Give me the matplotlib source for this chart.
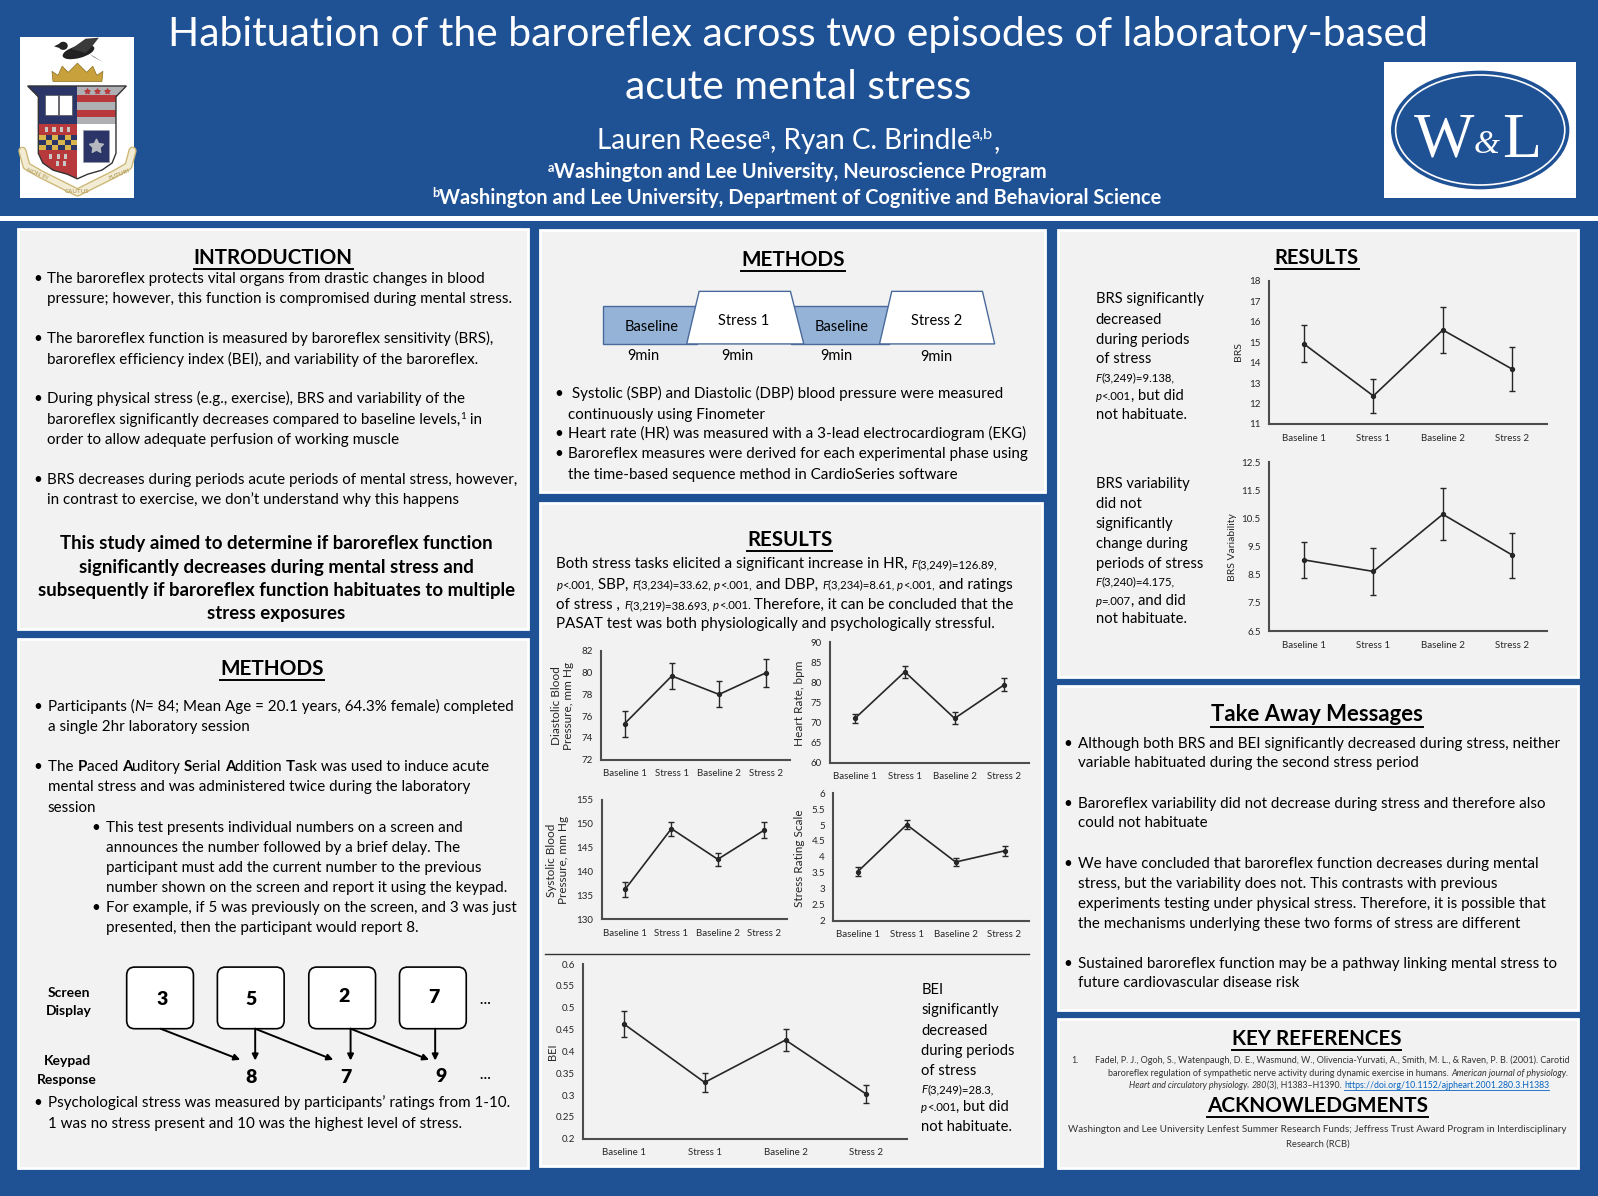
import numpy as np
import matplotlib.pyplot as plt
from matplotlib.patches import Rectangle, Polygon, Ellipse, FancyBboxPatch

plt.rcParams['font.family'] = ['Lato', 'DejaVu Sans']

# poster drawn in "poster pixels"
W, H = 1568, 1174
BLUE = '#1f5195'
PANEL = '#f2f2f2'
INK = '#262626'
BODY = 10.9

phases = ['Baseline 1', 'Stress 1', 'Baseline 2', 'Stress 2']
dbp = [75.3, 79.7, 78.0, 80.0]
dbp_err = [1.2, 1.2, 1.2, 1.3]
hr = [71.0, 82.6, 71.0, 79.4]
hr_err = [1.2, 1.5, 1.5, 1.6]
sbp = [136.2, 148.9, 142.5, 148.6]
sbp_err = [1.5, 1.5, 1.4, 1.7]
stress_rating = [3.54, 5.01, 3.84, 4.19]
stress_err = [0.13, 0.14, 0.14, 0.15]
bei = [0.463, 0.329, 0.426, 0.302]
bei_err = [0.030, 0.021, 0.026, 0.021]
brs = [14.92, 12.37, 15.60, 13.68]
brs_err = [0.91, 0.82, 1.14, 1.08]
brs_var = [9.03, 8.62, 10.65, 9.20]
brs_var_err = [0.65, 0.85, 0.92, 0.80]

fig = plt.figure(figsize=(15.98, 11.96), dpi=100, facecolor=BLUE)
bg = fig.add_axes([0, 0, 1, 1])
bg.set_xlim(0, W)
bg.set_ylim(H, 0)
bg.axis('off')
R = fig.canvas.get_renderer()
PX = W / fig.bbox.width


def text_w(s, **kw):
    t = bg.text(0, 0, '|' + s + '|', **kw)
    t0 = bg.text(0, 0, '||', **kw)
    w = t.get_window_extent(R).width - t0.get_window_extent(R).width
    t.remove()
    t0.remove()
    return w * PX


def runs(x, y, parts, ha='left', size=BODY, color='black', weight='normal', fit=None):
    def props(kw, scale):
        k = dict(color=color, fontweight=weight, fontsize=size)
        k.update(kw)
        dy = k.pop('dy', 0) * scale
        k['fontsize'] = k['fontsize'] * scale
        return k, dy
    scale = 1.0
    widths = [text_w(s, **props(kw, scale)[0]) for s, kw in parts]
    if fit:
        scale = fit / sum(widths)
        widths = [text_w(s, **props(kw, scale)[0]) for s, kw in parts]
    total = sum(widths)
    cx = x - total / 2 if ha == 'center' else x
    base = y + 0.45 * size * scale
    spans = []
    for (s, kw), w in zip(parts, widths):
        k, dy = props(kw, scale)
        bg.text(cx, base + dy, s, ha='left', va='baseline', **k)
        spans.append((cx, w))
        cx += w
    return total, size * scale, spans


def line(x, y, s, **kw):
    return runs(x, y, [(s, {})], **kw)


def heading(x, y, s, width):
    w, sz, _ = runs(x, y, [(s, {})], ha='center', weight='bold', size=16, fit=width)
    bg.plot([x - w / 2, x + w / 2], [y + 0.72 * sz + 1, y + 0.72 * sz + 1], color='black', lw=1.4)


def bullets(xb, xt, rows, size=BODY):
    for y, parts, dot in rows:
        if dot:
            line(xb, y, '•', size=size)
        if isinstance(parts, str):
            parts = [(parts, {})]
        runs(xt, y, parts, size=size)


IT = dict(style='italic')
BD = dict(fontweight='bold')


def sm(**k):
    d = dict(fontsize=8.2)
    d.update(k)
    return d


def panel(x0, y0, x1, y1):
    bg.add_patch(Rectangle((x0, y0), x1 - x0, y1 - y0, fc=PANEL, ec='white', lw=2))


def chart(box, vals, errs, ylim, yticks, ysize=7, xsize=7):
    x0, y0, x1, y1 = box
    ax = fig.add_axes([x0 / W, 1 - y1 / H, (x1 - x0) / W, (y1 - y0) / H])
    ax.patch.set_visible(False)
    xs = np.arange(len(phases))
    ax.errorbar(xs, vals, yerr=errs, color=INK, lw=1.2, marker='o', ms=2.8,
                capsize=2, elinewidth=1, capthick=1)
    ax.set_xlim(-0.5, len(phases) - 0.5)
    ax.set_ylim(*ylim)
    ax.set_yticks(yticks)
    ax.set_yticklabels([f'{v:g}' for v in yticks])
    ax.set_xticks(xs)
    ax.set_xticklabels(phases)
    ax.tick_params(axis='y', length=0, labelsize=ysize, pad=6, colors=INK)
    ax.tick_params(axis='x', length=0, labelsize=xsize, pad=7, colors=INK)
    for s in ['top', 'right']:
        ax.spines[s].set_visible(False)
    for s in ['left', 'bottom']:
        ax.spines[s].set_color('#4d4d4d')
        ax.spines[s].set_linewidth(1.5)
    return ax


def ylab(x, y, s, size=8.5):
    bg.text(x, y, s, rotation=90, ha='center', va='center', fontsize=size,
            color=INK, linespacing=1.1, multialignment='center')


# ---------------- header ----------------
w1, tsz, _ = line(783, 32, 'Habituation of the baroreflex across two episodes of laboratory-based',
                  ha='center', color='white', size=28, fit=1237)
line(783, 84, 'acute mental stress', ha='center', color='white', size=tsz)
runs(783, 137, [('Lauren Reese', {}), ('a', dict(fontsize=10, dy=-8)),
                (', Ryan C. Brindle', {}), ('a,b', dict(fontsize=10, dy=-8)), (',', {})],
     ha='center', color='white', size=17, fit=395)
_, asz, _ = runs(782, 194, [('b', dict(fontsize=8, dy=-6)),
                            ('Washington and Lee University, Department of Cognitive and Behavioral Science', {})],
                 ha='center', color='white', weight='bold', size=12.5, fit=715)
runs(782, 168, [('a', dict(fontsize=8 * asz / 12.5, dy=-6)),
                ('Washington and Lee University, Neuroscience Program', {})],
     ha='center', color='white', weight='bold', size=asz)
bg.add_patch(Rectangle((0, 212), 1592, 5, fc='white', ec='none'))

# crest (left logo)
bg.add_patch(Rectangle((19.6, 36.3), 111.9, 158, fc='white', ec='none'))
rib = np.array([(22, 148), (26, 163), (40, 171), (58, 180), (76, 189), (94, 180),
                (112, 171), (126, 163), (130, 148)])
bg.plot(rib[:, 0], rib[:, 1], color='#cdb877', lw=6, solid_capstyle='round')
bg.plot(rib[:, 0], rib[:, 1], color='#f3ecd4', lw=4, solid_capstyle='round')
bg.text(36, 171, 'NON IN', fontsize=4.5, color='#a8924f', rotation=-22, ha='center', va='center')
bg.text(76, 188, 'CAUTUS', fontsize=4.5, color='#a8924f', ha='center', va='center')
bg.text(117, 171, 'FUTURI', fontsize=4.5, color='#a8924f', rotation=22, ha='center', va='center')
shield_pts = [(27.1, 84.4), (124, 84.4), (113.8, 95), (113.8, 150.5), (110, 160), (100, 167),
              (86, 171), (75.9, 175.5), (66, 171), (52, 167), (42, 160), (37.6, 150.5), (37.6, 95)]
shield = Polygon(shield_pts, closed=True, fc='none', ec='#333333', lw=1, zorder=4)
bg.add_patch(shield)
pieces = [Rectangle((27, 84), 49, 38, fc='#2b3567', ec='none'),
          Rectangle((75.9, 84), 49, 38, fc='#aeb0b3', ec='none'),
          Rectangle((75.9, 93.2), 49, 7.2, fc='#b8393c', ec='none'),
          Rectangle((75.9, 108), 49, 7.2, fc='#b8393c', ec='none'),
          Rectangle((27, 122), 49, 55, fc='#b8393c', ec='none'),
          Rectangle((75.9, 122), 49, 55, fc='white', ec='none')]
for i in range(6):
    for j in range(3):
        pieces.append(Rectangle((38.6 + i * 6.2, 132.5 + j * 4.9), 6.2, 4.9, ec='none',
                                fc='#2b3567' if (i + j) % 2 else '#d9b44a'))
for xx in [45.8, 53, 60.2, 67.4]:
    pieces.append(Rectangle((xx - 1.5, 125), 3, 4.5, fc='#c8c8c8', ec='none'))
for xx, yy in [(50, 151), (57, 151), (64, 151), (56, 158), (63, 158)]:
    pieces.append(Rectangle((xx - 1.5, yy), 3, 5, fc='#c8c8c8', ec='none'))
for p in pieces:
    bg.add_patch(p)
    p.set_clip_path(shield)
bg.add_patch(Rectangle((44, 93), 13, 20, fc='white', ec='#555555', lw=0.5, zorder=5))
bg.add_patch(Rectangle((58, 93), 13, 20, fc='white', ec='#555555', lw=0.5, zorder=5))
bg.add_patch(Rectangle((81.8, 127.6), 25.5, 31, fc='#2b3567', ec='#999999', lw=0.6, ls=':', zorder=5))
bg.scatter([94.5], [143], marker=(5, 1, 0), s=110, c='#b5b8bf', zorder=6)
bg.scatter([85.7, 95.5, 105.3], [89, 89, 89], marker='*', s=14, c='#b8393c', zorder=6)
bg.add_patch(Polygon([(52, 80), (100, 80), (101, 70), (95, 74), (91, 65), (85, 71), (76, 62),
                      (67, 71), (61, 65), (57, 74), (51, 70)], fc='#c9a13c', ec='#8a6d1f', lw=0.5))
bg.add_patch(Ellipse((77, 51), 32, 12, angle=-15, fc='#222222'))
bg.add_patch(Ellipse((62, 45), 9, 8, fc='#222222'))
bg.add_patch(Polygon([(58, 43), (53, 45.5), (58, 47)], fc='#222222'))
bg.add_patch(Polygon([(70, 48), (84, 38), (97, 37), (90, 46), (84, 52)], fc='#3a3a3a'))
bg.add_patch(Polygon([(88, 53), (101, 61), (92, 56)], fc='#222222'))

# W&L logo
bg.add_patch(Rectangle((1358, 61), 188.6, 133, fc='white', ec='none'))
bg.add_patch(Ellipse((1452.4, 127.6), 175, 116.5, fc=BLUE, ec='none'))
bg.add_patch(Ellipse((1452.4, 127.6), 166, 108, fc='none', ec='white', lw=1.2))
bg.text(1417, 154, 'W', fontsize=46, color='white', family='Liberation Serif', ha='center', va='baseline')
bg.text(1459, 150, '&', fontsize=24, color='white', family='Liberation Serif', style='italic',
        ha='center', va='baseline')
bg.text(1493, 154, 'L', fontsize=46, color='white', family='Liberation Serif', ha='center', va='baseline')

# ---------------- panels ----------------
panel(18, 225, 518, 617)
panel(18, 627, 518, 1147)
panel(530, 226, 1025, 483)
panel(530, 494, 1022, 1145)
panel(1038, 226, 1548, 665)
panel(1038, 673, 1548, 991)
panel(1038, 1000, 1548, 1147)

# ---------------- introduction ----------------
heading(268, 252, 'INTRODUCTION', 157)
bullets(33, 46, [
    (273, 'The baroreflex protects vital organs from drastic changes in blood', True),
    (293, 'pressure; however, this function is compromised during mental stress.', False),
    (332, 'The baroreflex function is measured by baroreflex sensitivity (BRS),', True),
    (352, 'baroreflex efficiency index (BEI), and variability of the baroreflex.', False),
    (391, 'During physical stress (e.g., exercise), BRS and variability of the', True),
    (411, [('baroreflex significantly decreases compared to baseline levels,', {}),
           ('1', dict(fontsize=7, dy=-5)), (' in', {})], False),
    (431, 'order to allow adequate perfusion of working muscle', False),
    (470, 'BRS decreases during periods acute periods of mental stress, however,', True),
    (490, 'in contrast to exercise, we don’t understand why this happens', False),
])
for y, s in [(533, 'This study aimed to determine if baroreflex function'),
             (556, 'significantly decreases during mental stress and'),
             (579, 'subsequently if baroreflex function habituates to multiple'),
             (602, 'stress exposures')]:
    line(271, y, s, ha='center', weight='bold', size=13.4)

# ---------------- methods (left) ----------------
heading(267, 656, 'METHODS', 102)
bullets(33, 47, [
    (693, [('Participants (', {}), ('N', IT), ('= 84; Mean Age = 20.1 years, 64.3% female) completed', {})], True),
    (713, 'a single 2hr laboratory session', False),
    (752, [('The ', {}), ('P', BD), ('aced ', {}), ('A', BD), ('uditory ', {}), ('S', BD), ('erial ', {}),
           ('A', BD), ('ddition ', {}), ('T', BD), ('ask was used to induce acute', {})], True),
    (772, 'mental stress and was administered twice during the laboratory', False),
    (792, 'session', False),
])
bullets(90, 104, [
    (812, 'This test presents individual numbers on a screen and', True),
    (831, 'announces the number followed by a brief delay. The', False),
    (851, 'participant must add the current number to the previous', False),
    (871, 'number shown on the screen and report it using the keypad.', False),
    (890, 'For example, if 5 was previously on the screen, and 3 was just', True),
    (910, 'presented, then the participant would report 8.', False),
])
# PASAT example
line(68, 974, 'Screen', ha='center', weight='bold', size=10)
line(68, 992, 'Display', ha='center', weight='bold', size=10)
line(66, 1041, 'Keypad', ha='center', weight='bold', size=10)
line(66, 1060, 'Response', ha='center', weight='bold', size=10)
screen_digits = ['3', '5', '2', '7']
keypad_digits = ['8', '7', '9']
box_left = [124.3, 213.3, 303, 392]
digit_xy = [(158.7, 980.4), (246.3, 980.4), (337.5, 977.5), (425.3, 978)]
for bx, (dx, dy), d in zip(box_left, digit_xy, screen_digits):
    bg.add_patch(FancyBboxPatch((bx, 949.3), 65.5, 60.5, boxstyle='round,pad=0,rounding_size=8',
                                fc='white', ec='black', lw=1.2))
    line(dx, dy, d, ha='center', weight='heavy', size=14)
for (dx, dy), d in zip([(246, 1057), (339.7, 1057), (432.5, 1055.6)], keypad_digits):
    line(dx, dy, d, ha='center', weight='heavy', size=14)
line(476, 981, '…', ha='center', weight='bold', size=10)
line(476, 1055, '…', ha='center', weight='bold', size=10)
for start, end in [((157.6, 1009.8), (235.7, 1040.3)), ((250.4, 1009.8), (250.4, 1041)),
                   ((250.4, 1009.8), (327, 1040.3)), ((344, 1009.8), (344, 1041)),
                   ((344, 1009.8), (421, 1040.3)), ((427, 1009.8), (427, 1041))]:
    bg.annotate('', xy=end, xytext=start,
                arrowprops=dict(arrowstyle='-|>', color='black', lw=1.4, mutation_scale=9,
                                shrinkA=0, shrinkB=0))
bullets(33, 47, [
    (1082, 'Psychological stress was measured by participants’ ratings from 1-10.', True),
    (1102, '1 was no stress present and 10 was the highest level of stress.', False),
])

# ---------------- methods (middle) ----------------
heading(778, 254, 'METHODS', 102)
TL_EDGE = '#4a6a9c'
bg.add_patch(Rectangle((592, 300), 92, 37.6, fc='#95b3d7', ec=TL_EDGE, lw=1))
bg.add_patch(Rectangle((776, 300), 96, 37.6, fc='#95b3d7', ec=TL_EDGE, lw=1))
bg.add_patch(Polygon([(673.8, 337.6), (686, 286), (775.6, 286), (788.7, 337.6)], fc='white', ec=TL_EDGE, lw=1))
bg.add_patch(Polygon([(863, 337.6), (875, 286), (964, 286), (976, 337.6)], fc='white', ec=TL_EDGE, lw=1))
for x, y, s in [(639.5, 320, 'Baseline'), (730, 314.6, 'Stress 1'), (825.6, 320, 'Baseline'),
                (919, 314.6, 'Stress 2'), (631, 348.5, '9min'), (723, 348.5, '9min'),
                (821, 348.5, '9min'), (918.6, 350, '9min')]:
    line(x, y, s, ha='center', size=10.5)
bullets(544, 557, [
    (386, ' Systolic (SBP) and Diastolic (DBP) blood pressure were measured', True),
    (406, 'continuously using Finometer', False),
    (425, 'Heart rate (HR) was measured with a 3-lead electrocardiogram (EKG)', True),
    (445, 'Baroreflex measures were derived for each experimental phase using', True),
    (465, 'the time-based sequence method in CardioSeries software', False),
])

# ---------------- results (middle) ----------------
heading(775, 529, 'RESULTS', 84)
runs(546, 553, [('Both stress tasks elicited a significant increase in HR, ', {}),
                ('F', sm(style='italic')), ('(3,249)=126.89,', sm())])
runs(546, 573, [('p', sm(style='italic')), ('<.001,', sm()), (' SBP, ', {}), ('F', sm(style='italic')),
                ('(3,234)=33.62, ', sm()), ('p', sm(style='italic')), ('<.001,', sm()), (' and DBP, ', {}),
                ('F', sm(style='italic')), ('(3,234)=8.61, ', sm()), ('p', sm(style='italic')),
                ('<.001,', sm()), (' and ratings', {})])
runs(546, 593, [('of stress , ', {}), ('F', sm(style='italic')), ('(3,219)=38.693, ', sm()),
                ('p', sm(style='italic')), ('<.001.', sm()), (' Therefore, it can be concluded that the', {})])
line(546, 612, 'PASAT test was both physiologically and psychologically stressful.')

chart((589.7, 639, 775, 745.6), dbp, dbp_err, (72, 82), np.arange(72, 83, 2))
chart((814.5, 630.3, 1010, 748.5), hr, hr_err, (60, 90), np.arange(60, 91, 5))
chart((590.5, 784.8, 772.6, 902.2), sbp, sbp_err, (130, 155), np.arange(130, 156, 5))
chart((817.7, 778.5, 1009.7, 903.8), stress_rating, stress_err, (2, 6), np.arange(2, 6.01, 0.5))
ylab(551.5, 692.8, 'Diastolic Blood\nPressure, mm Hg')
ylab(784.4, 690.2, 'Heart Rate, bpm')
ylab(547.3, 844, 'Systolic Blood\nPressure, mm Hg')
ylab(784.9, 842.2, 'Stress Rating Scale')
bg.plot([535, 1010], [936.2, 936.2], color='#333333', lw=1)

chart((572.4, 946.3, 889.8, 1117.8), bei, bei_err, (0.2, 0.6), np.arange(0.2, 0.601, 0.05))
ylab(542.4, 1032, 'BEI', size=8)
for y, parts in [(971, 'BEI'), (991, 'significantly'), (1011, 'decreased'), (1031, 'during periods'),
                 (1050, 'of stress'), (1068, [('F', sm(style='italic')), ('(3,249)=28.3,', sm())]),
                 (1086, [('p', sm(style='italic')), ('<.001', sm()), (', but did', {})]),
                 (1105, 'not habituate.')]:
    runs(904, y, [(parts, {})] if isinstance(parts, str) else parts, size=10.6)

# ---------------- results (right) ----------------
heading(1292, 253, 'RESULTS', 83)
for y, parts in [(293, 'BRS significantly'), (313, 'decreased'), (333, 'during periods'), (352, 'of stress'),
                 (370, [('F', sm(style='italic')), ('(3,249)=9.138,', sm())]),
                 (388, [('p', sm(style='italic')), ('<.001', sm()), (', but did', {})]),
                 (407, 'not habituate.'),
                 (474, 'BRS variability'), (494, 'did not'), (514, 'significantly'), (533, 'change during'),
                 (553, 'periods of stress'),
                 (570, [('F', sm(style='italic')), ('(3,240)=4.175,', sm())]),
                 (589, [('p', sm(style='italic')), ('=.007', sm()), (', and did', {})]),
                 (607, 'not habituate.')]:
    runs(1075, y, [(parts, {})] if isinstance(parts, str) else parts, size=10.6)
chart((1245.3, 275.8, 1518, 416.1), brs, brs_err, (11, 18), np.arange(11, 19, 1))
chart((1245.3, 453.7, 1518, 619.5), brs_var, brs_var_err, (6.5, 12.5), np.arange(6.5, 12.6, 1))
ylab(1215, 345, 'BRS', size=7.5)
ylab(1209, 537, 'BRS Variability', size=7.5)

# ---------------- take away ----------------
heading(1292, 701, 'Take Away Messages', 209)
bullets(1043, 1058, [
    (729, 'Although both BRS and BEI significantly decreased during stress, neither', True),
    (748, 'variable habituated during the second stress period', False),
    (788, 'Baroreflex variability did not decrease during stress and therefore also', True),
    (807, 'could not habituate', False),
    (847, 'We have concluded that baroreflex function decreases during mental', True),
    (867, 'stress, but the variability does not. This contrasts with previous', False),
    (886, 'experiments testing under physical stress. Therefore, it is possible that', False),
    (906, 'the mechanisms underlying these two forms of stress are different', False),
    (945, 'Sustained baroreflex function may be a pathway linking mental stress to', True),
    (964, 'future cardiovascular disease risk', False),
])

# ---------------- references / acknowledgments ----------------
heading(1292, 1019, 'KEY REFERENCES', 167)
REF = '#333333'
line(1051, 1041, '1.', size=6.3, color=REF)
runs(1307, 1041, [('Fadel, P. J., Ogoh, S., Watenpaugh, D. E., Wasmund, W., Olivencia-Yurvati, A., '
                   'Smith, M. L., & Raven, P. B. (2001). Carotid', {})], ha='center', size=6.3, color=REF, fit=465)
runs(1313, 1053, [('baroreflex regulation of sympathetic nerve activity during dynamic exercise in humans. ', {}),
                  ('American journal of physiology.', IT)], ha='center', size=6.3, color=REF, fit=453)
_, _, sp = runs(1314, 1065, [('Heart and circulatory physiology', IT), (', ', {}), ('280', IT),
                             ('(3), H1383–H1390. ', {}),
                             ('https://doi.org/10.1152/ajpheart.2001.280.3.H1383', dict(color='#0563c1'))],
                ha='center', size=6.3, color=REF, fit=414)
lx, lw_ = sp[-1]
bg.plot([lx, lx + lw_], [1069.5, 1069.5], color='#0563c1', lw=0.6)
heading(1293, 1085, 'ACKNOWLEDGMENTS', 218)
line(1293, 1108, 'Washington and Lee University Lenfest Summer Research Funds; Jeffress Trust Award '
     'Program in Interdisciplinary', ha='center', size=7, color=REF, fit=490)
line(1293, 1122, 'Research (RCB)', ha='center', size=6.8, color=REF)

fig.savefig('out.png', dpi=100, facecolor=BLUE)
